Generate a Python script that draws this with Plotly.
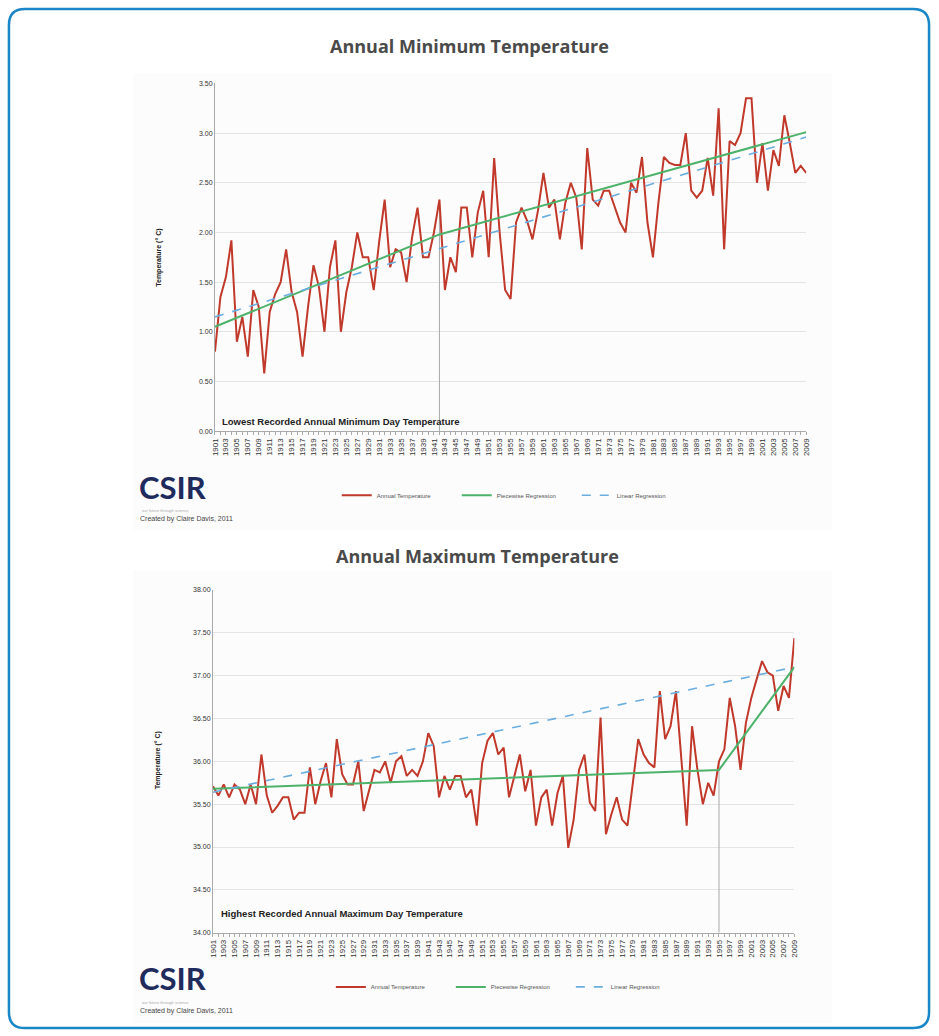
import plotly.graph_objects as go

W, H = 939, 1036

years = list(range(1901, 2010))

min_temp = [
    0.80, 1.35, 1.55, 1.92, 0.90, 1.15, 0.75, 1.42, 1.25, 0.58,
    1.20, 1.38, 1.50, 1.83, 1.40, 1.20, 0.75, 1.25, 1.67, 1.45,
    1.00, 1.65, 1.92, 1.00, 1.40, 1.65, 2.00, 1.75, 1.75, 1.42,
    1.91, 2.33, 1.65, 1.83, 1.80, 1.50, 1.95, 2.25, 1.75, 1.75,
    2.00, 2.33, 1.42, 1.75, 1.60, 2.25, 2.25, 1.75, 2.20, 2.42,
    1.75, 2.75, 2.00, 1.42, 1.33, 2.10, 2.25, 2.12, 1.93, 2.22,
    2.60, 2.25, 2.33, 1.93, 2.30, 2.50, 2.35, 1.83, 2.85, 2.33,
    2.27, 2.42, 2.42, 2.25, 2.10, 2.00, 2.50, 2.40, 2.76, 2.10,
    1.75, 2.30, 2.76, 2.70, 2.68, 2.68, 3.00, 2.42, 2.35, 2.42,
    2.75, 2.37, 3.25, 1.83, 2.92, 2.88, 3.00, 3.35, 3.35, 2.50,
    2.90, 2.42, 2.83, 2.67, 3.18, 2.90, 2.60, 2.67, 2.60,
]

max_temp = [
    35.71, 35.60, 35.73, 35.58, 35.73, 35.67, 35.50, 35.73, 35.50, 36.08,
    35.60, 35.40, 35.48, 35.58, 35.58, 35.32, 35.40, 35.40, 35.93, 35.50,
    35.77, 35.98, 35.58, 36.26, 35.85, 35.73, 35.73, 36.00, 35.42, 35.65,
    35.90, 35.87, 36.00, 35.75, 36.00, 36.06, 35.83, 35.90, 35.83, 36.00,
    36.33, 36.18, 35.58, 35.83, 35.67, 35.83, 35.83, 35.58, 35.67, 35.25,
    35.98, 36.24, 36.33, 36.08, 36.16, 35.58, 35.83, 36.08, 35.65, 35.90,
    35.25, 35.58, 35.67, 35.25, 35.63, 35.83, 34.99, 35.32, 35.90, 36.08,
    35.52, 35.42, 36.51, 35.15, 35.38, 35.58, 35.32, 35.25, 35.75, 36.26,
    36.08, 35.98, 35.93, 36.82, 36.26, 36.41, 36.82, 36.08, 35.25, 36.41,
    35.90, 35.50, 35.75, 35.60, 36.00, 36.14, 36.74, 36.41, 35.90, 36.45,
    36.74, 36.96, 37.17, 37.04, 37.00, 36.59, 36.88, 36.74, 37.44,
]
assert len(min_temp) == len(years) and len(max_temp) == len(years)

# regression lines (knots)
min_pw_years = [1901, 1942, 2009]
min_pw_vals = [1.05, 1.98, 3.01]
min_lin_years = [1901, 2009]
min_lin_vals = [1.15, 2.96]
min_break_year = 1942

max_pw_years = [1901, 1995, 2009]
max_pw_vals = [35.68, 35.90, 37.10]
max_lin_years = [1901, 2009]
max_lin_vals = [35.64, 37.10]
max_break_year = 1995

tick_years = list(range(1901, 2010, 2))
tick_labels = [str(y) for y in tick_years]

min_yticks = [0.0, 0.5, 1.0, 1.5, 2.0, 2.5, 3.0, 3.5]
max_yticks = [34.0, 34.5, 35.0, 35.5, 36.0, 36.5, 37.0, 37.5, 38.0]

legend_names = ["Annual Temperature", "Piecewise Regression", "Linear Regression"]

RED = "#c0392b"
GREEN = "#4db36a"
BLUE = "#6aaee0"
GREY_LINE = "#a8a8a8"


def px_x(x):
    return x / W


def px_y(y):
    return 1 - y / H


fig = go.Figure()


def add_chart(xa, ya, leg, temps, pw_y, pw_v, lin_y, lin_v, brk, ymin):
    bval = temps[years.index(brk)]
    fig.add_trace(go.Scatter(x=[brk, brk], y=[ymin, bval], mode="lines",
                             line=dict(color=GREY_LINE, width=1),
                             xaxis=xa, yaxis=ya, showlegend=False, hoverinfo="skip"))
    fig.add_trace(go.Scatter(x=years, y=temps, mode="lines", name=legend_names[0],
                             line=dict(color=RED, width=2), xaxis=xa, yaxis=ya, legend=leg))
    fig.add_trace(go.Scatter(x=pw_y, y=pw_v, mode="lines", name=legend_names[1],
                             line=dict(color=GREEN, width=2), xaxis=xa, yaxis=ya, legend=leg))
    fig.add_trace(go.Scatter(x=lin_y, y=lin_v, mode="lines", name=legend_names[2],
                             line=dict(color=BLUE, width=1.6, dash="dash"),
                             xaxis=xa, yaxis=ya, legend=leg))


add_chart("x", "y", "legend", min_temp, min_pw_years, min_pw_vals,
          min_lin_years, min_lin_vals, min_break_year, 0.0)
add_chart("x2", "y2", "legend2", max_temp, max_pw_years, max_pw_vals,
          max_lin_years, max_lin_vals, max_break_year, 34.0)

xaxis_common = dict(
    range=[1901, 2009], tickmode="array", tickvals=tick_years, ticktext=tick_labels,
    tickangle=-90, tickfont=dict(size=8, family="Liberation Sans", color="#333"),
    showgrid=False, showline=True, linecolor="#aaaaaa", linewidth=1,
    ticks="outside", ticklen=3, tickcolor="#aaaaaa",
    minor=dict(dtick=1, tick0=1901, ticks="outside", ticklen=3, tickcolor="#aaaaaa"),
    zeroline=False, fixedrange=True,
)
yaxis_common = dict(
    tickformat=".2f", tickfont=dict(size=7, family="Liberation Sans", color="#333"),
    showgrid=True, gridcolor="#e4e4e4", gridwidth=1,
    showline=True, linecolor="#aaaaaa", linewidth=1, ticks="", zeroline=False,
    fixedrange=True,
)

fig.update_layout(
    width=W, height=H, margin=dict(l=0, r=0, t=0, b=0),
    paper_bgcolor="white", plot_bgcolor="rgba(0,0,0,0)",
    font=dict(family="Liberation Sans", color="#333"),
    xaxis=dict(xaxis_common, domain=[px_x(213), px_x(810)], anchor="y"),
    yaxis=dict(yaxis_common, domain=[px_y(430), px_y(80)], range=[0, 3.5],
               tickvals=min_yticks, anchor="x"),
    xaxis2=dict(xaxis_common, domain=[px_x(211), px_x(798)], anchor="y2"),
    yaxis2=dict(yaxis_common, domain=[px_y(935), px_y(590)], range=[34, 38],
                tickvals=max_yticks, anchor="x2"),
    legend=dict(x=px_x(336), y=px_y(480), xanchor="left", yanchor="top",
                orientation="h", font=dict(size=6, color="#555"),
                itemwidth=30, entrywidth=75, bgcolor="rgba(0,0,0,0)"),
    legend2=dict(x=px_x(330), y=px_y(975), xanchor="left", yanchor="top",
                 orientation="h", font=dict(size=6, color="#555"),
                 itemwidth=30, entrywidth=75, bgcolor="rgba(0,0,0,0)"),
    showlegend=True,
)

# rounded blue frame
x0, y0, x1, y1, r = 5, 5, 934, 1031, 16
pts = [
    ("M", x0 + r, y0), ("L", x1 - r, y0), ("Q", x1, y0, x1, y0 + r),
    ("L", x1, y1 - r), ("Q", x1, y1, x1 - r, y1), ("L", x0 + r, y1),
    ("Q", x0, y1, x0, y1 - r), ("L", x0, y0 + r), ("Q", x0, y0, x0 + r, y0),
]
path = ""
for p in pts:
    cmd = p[0]
    coords = p[1:]
    segs = []
    for i in range(0, len(coords), 2):
        segs.append(f"{px_x(coords[i]):.5f},{px_y(coords[i + 1]):.5f}")
    path += cmd + " " + " ".join(segs) + " "
path += "Z"

shapes = [
    dict(type="rect", xref="paper", yref="paper", x0=px_x(130), x1=px_x(836),
         y0=px_y(530), y1=px_y(70), fillcolor="#fcfcfc", line=dict(width=0), layer="below"),
    dict(type="rect", xref="paper", yref="paper", x0=px_x(130), x1=px_x(836),
         y0=px_y(1026), y1=px_y(570), fillcolor="#fcfcfc", line=dict(width=0), layer="below"),
    dict(type="path", xref="paper", yref="paper", path=path,
         line=dict(color="#1a87c8", width=2.5), layer="above"),
]
fig.update_layout(shapes=shapes)

ann = []


def text(x, y, s, size, color="#333", bold=False, family="Liberation Sans",
         xanchor="left", angle=0):
    ann.append(dict(x=px_x(x), y=px_y(y), xref="paper", yref="paper",
                    text=f"<b>{s}</b>" if bold else s, showarrow=False,
                    font=dict(size=size, color=color, family=family),
                    xanchor=xanchor, yanchor="middle", textangle=angle))


text(470, 42, "Annual Minimum Temperature", 18, "#4a4a4a", True, "Open Sans", "center")
text(478, 556, "Annual Maximum Temperature", 18, "#4a4a4a", True, "Open Sans", "center")

text(157, 255, "Temperature (° C)", 7, "#222", True, xanchor="center", angle=-90)
text(155, 762, "Temperature (° C)", 7, "#222", True, xanchor="center", angle=-90)

text(218, 420, "Lowest Recorded Annual Minimum Day Temperature", 9.5, "#222", True)
text(217, 916, "Highest Recorded Annual Maximum Day Temperature", 9.5, "#222", True)

for ly, cy in [(486, 519), (981, 1014)]:
    text(134, ly, "CSIR", 31, "#1f2b5c", True, "Lato")
    text(137, ly + 24, "our future through science", 4, "#aaaaaa")
    text(135, cy, "Created by Claire Davis, 2011", 7, "#444")

fig.update_layout(annotations=ann)

fig.write_html("out.html", config={"displayModeBar": False}, post_script=(
    "document.body.style.margin='0';document.body.style.overflow='hidden';"))
